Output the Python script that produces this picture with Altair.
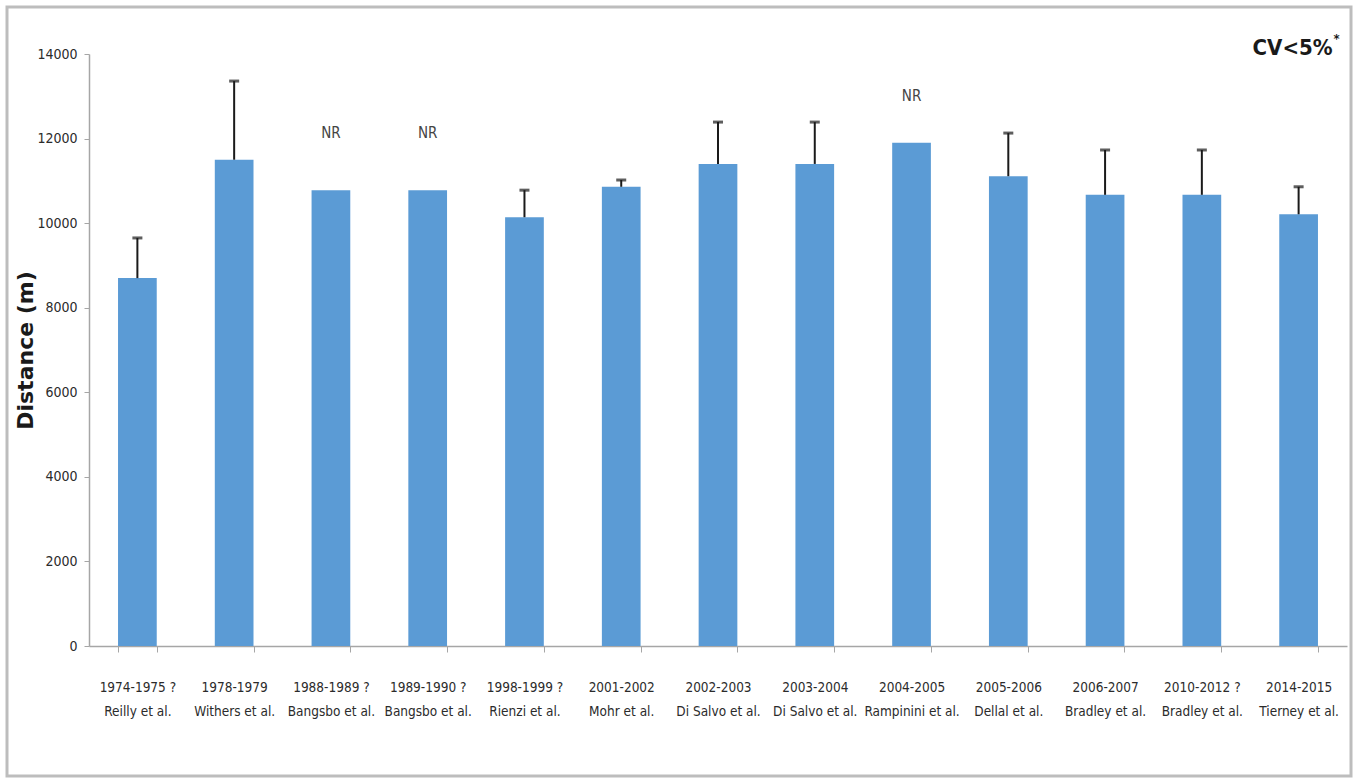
import altair as alt
import pandas as pd

# Seasons, studies and mean total distance (m) per match with SD
seasons = ["1974-1975 ?", "1978-1979", "1988-1989 ?", "1989-1990 ?", "1998-1999 ?",
           "2001-2002", "2002-2003", "2003-2004", "2004-2005", "2005-2006",
           "2006-2007", "2010-2012 ?", "2014-2015"]
authors = ["Reilly et al.", "Withers et al.", "Bangsbo et al.", "Bangsbo et al.",
           "Rienzi et al.", "Mohr et al.", "Di Salvo et al.", "Di Salvo et al.",
           "Rampinini et al.", "Dellal et al.", "Bradley et al.", "Bradley et al.",
           "Tierney et al."]
distance = [8700, 11500, 10780, 10780, 10140, 10860, 11400, 11400, 11900,
            11110, 10670, 10670, 10210]
sd = [950, 1860, None, None, 640, 160, 990, 990, None, 1020, 1060, 1060, 650]

# Studies that did not report variability, and the height of their "NR" tag
nr_studies = [2, 3, 8]
nr_at = [12130, 12130, 13000]

labels = [f"{s}\n{a}" for s, a in zip(seasons, authors)]

df = pd.DataFrame({
    "study": labels,
    "distance": distance,
    "upper": [d + s if s is not None else None for d, s in zip(distance, sd)],
})
nr_df = pd.DataFrame({"study": [labels[i] for i in nr_studies], "y": nr_at, "txt": "NR"})
cv_df = pd.DataFrame({"study": [labels[-1]], "y": [14000]})

W, H = 1258, 592
BLUE = "#5B9BD5"
NARROW = "DejaVu Sans Condensed, Liberation Sans Narrow, sans-serif"

x = alt.X(
    "study:N",
    sort=labels,
    title=None,
    scale=alt.Scale(paddingInner=0.6, paddingOuter=0.3),
    axis=alt.Axis(
        labelExpr="split(datum.label, '\\n')",
        labelAngle=0,
        labelFont=NARROW,
        labelFontSize=13.5,
        labelColor="#2b2b2b",
        labelLineHeight=24,
        labelPadding=28,
        tickBand="extent",
        tickSize=6,
        tickColor="#a6a6a6",
        domainColor="#a6a6a6",
        domainWidth=1.5,
    ),
)

y = alt.Y(
    "distance:Q",
    title="Distance (m)",
    scale=alt.Scale(domain=[0, 14000], nice=False),
    axis=alt.Axis(
        values=[0, 2000, 4000, 6000, 8000, 10000, 12000, 14000],
        format="d",
        grid=False,
        labelFont=NARROW,
        labelFontSize=14,
        labelColor="#2b2b2b",
        labelPadding=7,
        tickSize=5,
        tickColor="#a6a6a6",
        domainColor="#a6a6a6",
        domainWidth=1.5,
        titleFont="DejaVu Sans",
        titleFontWeight="bold",
        titleFontSize=22,
        titleColor="#1a1a1a",
        titleAngle=-90,
        titleX=-64,
        titleY=H / 2,
        titleAlign="center",
        titleBaseline="middle",
    ),
)

base = alt.Chart(df)

bars = base.mark_bar(color=BLUE).encode(x=x, y=y)

err = base.transform_filter("isValid(datum.upper)").mark_rule(
    color="#1a1a1a", strokeWidth=2
).encode(x=alt.X("study:N", sort=labels), y="distance:Q", y2="upper:Q")

caps = base.transform_filter("isValid(datum.upper)").mark_tick(
    color="#1a1a1a", size=10, thickness=3, orient="horizontal"
).encode(x=alt.X("study:N", sort=labels), y="upper:Q")

nr = alt.Chart(nr_df).mark_text(
    font=NARROW, fontSize=15, color="#444444"
).encode(x=alt.X("study:N", sort=labels), y="y:Q", text="txt:N")

cv = alt.Chart(cv_df).mark_text(
    font=NARROW, fontSize=22, fontWeight="bold", color="#1a1a1a",
    align="right", dx=34, dy=-6
).encode(x=alt.X("study:N", sort=labels), y="y:Q", text=alt.value("CV<5%"))

star = alt.Chart(cv_df).mark_text(
    font=NARROW, fontSize=13, fontWeight="bold", color="#1a1a1a",
    align="left", dx=35, dy=-15
).encode(x=alt.X("study:N", sort=labels), y="y:Q", text=alt.value("*"))

frame = alt.Chart(alt.Data(values=[{}])).mark_rect(
    fillOpacity=0, stroke="#bdbdbd", strokeWidth=3
).encode(
    x=alt.value(-82), x2=alt.value(W + 4),
    y=alt.value(-47), y2=alt.value(H + 130),
)

chart = alt.layer(frame, bars, err, caps, nr, cv, star).properties(
    width=W,
    height=H,
    autosize=alt.AutoSizeParams(type="none"),
    padding={"left": 89, "top": 54, "right": 7, "bottom": 132},
    background="white",
).configure_view(stroke=None)

chart.save("out.html", embed_options={"renderer": "svg", "actions": False})
